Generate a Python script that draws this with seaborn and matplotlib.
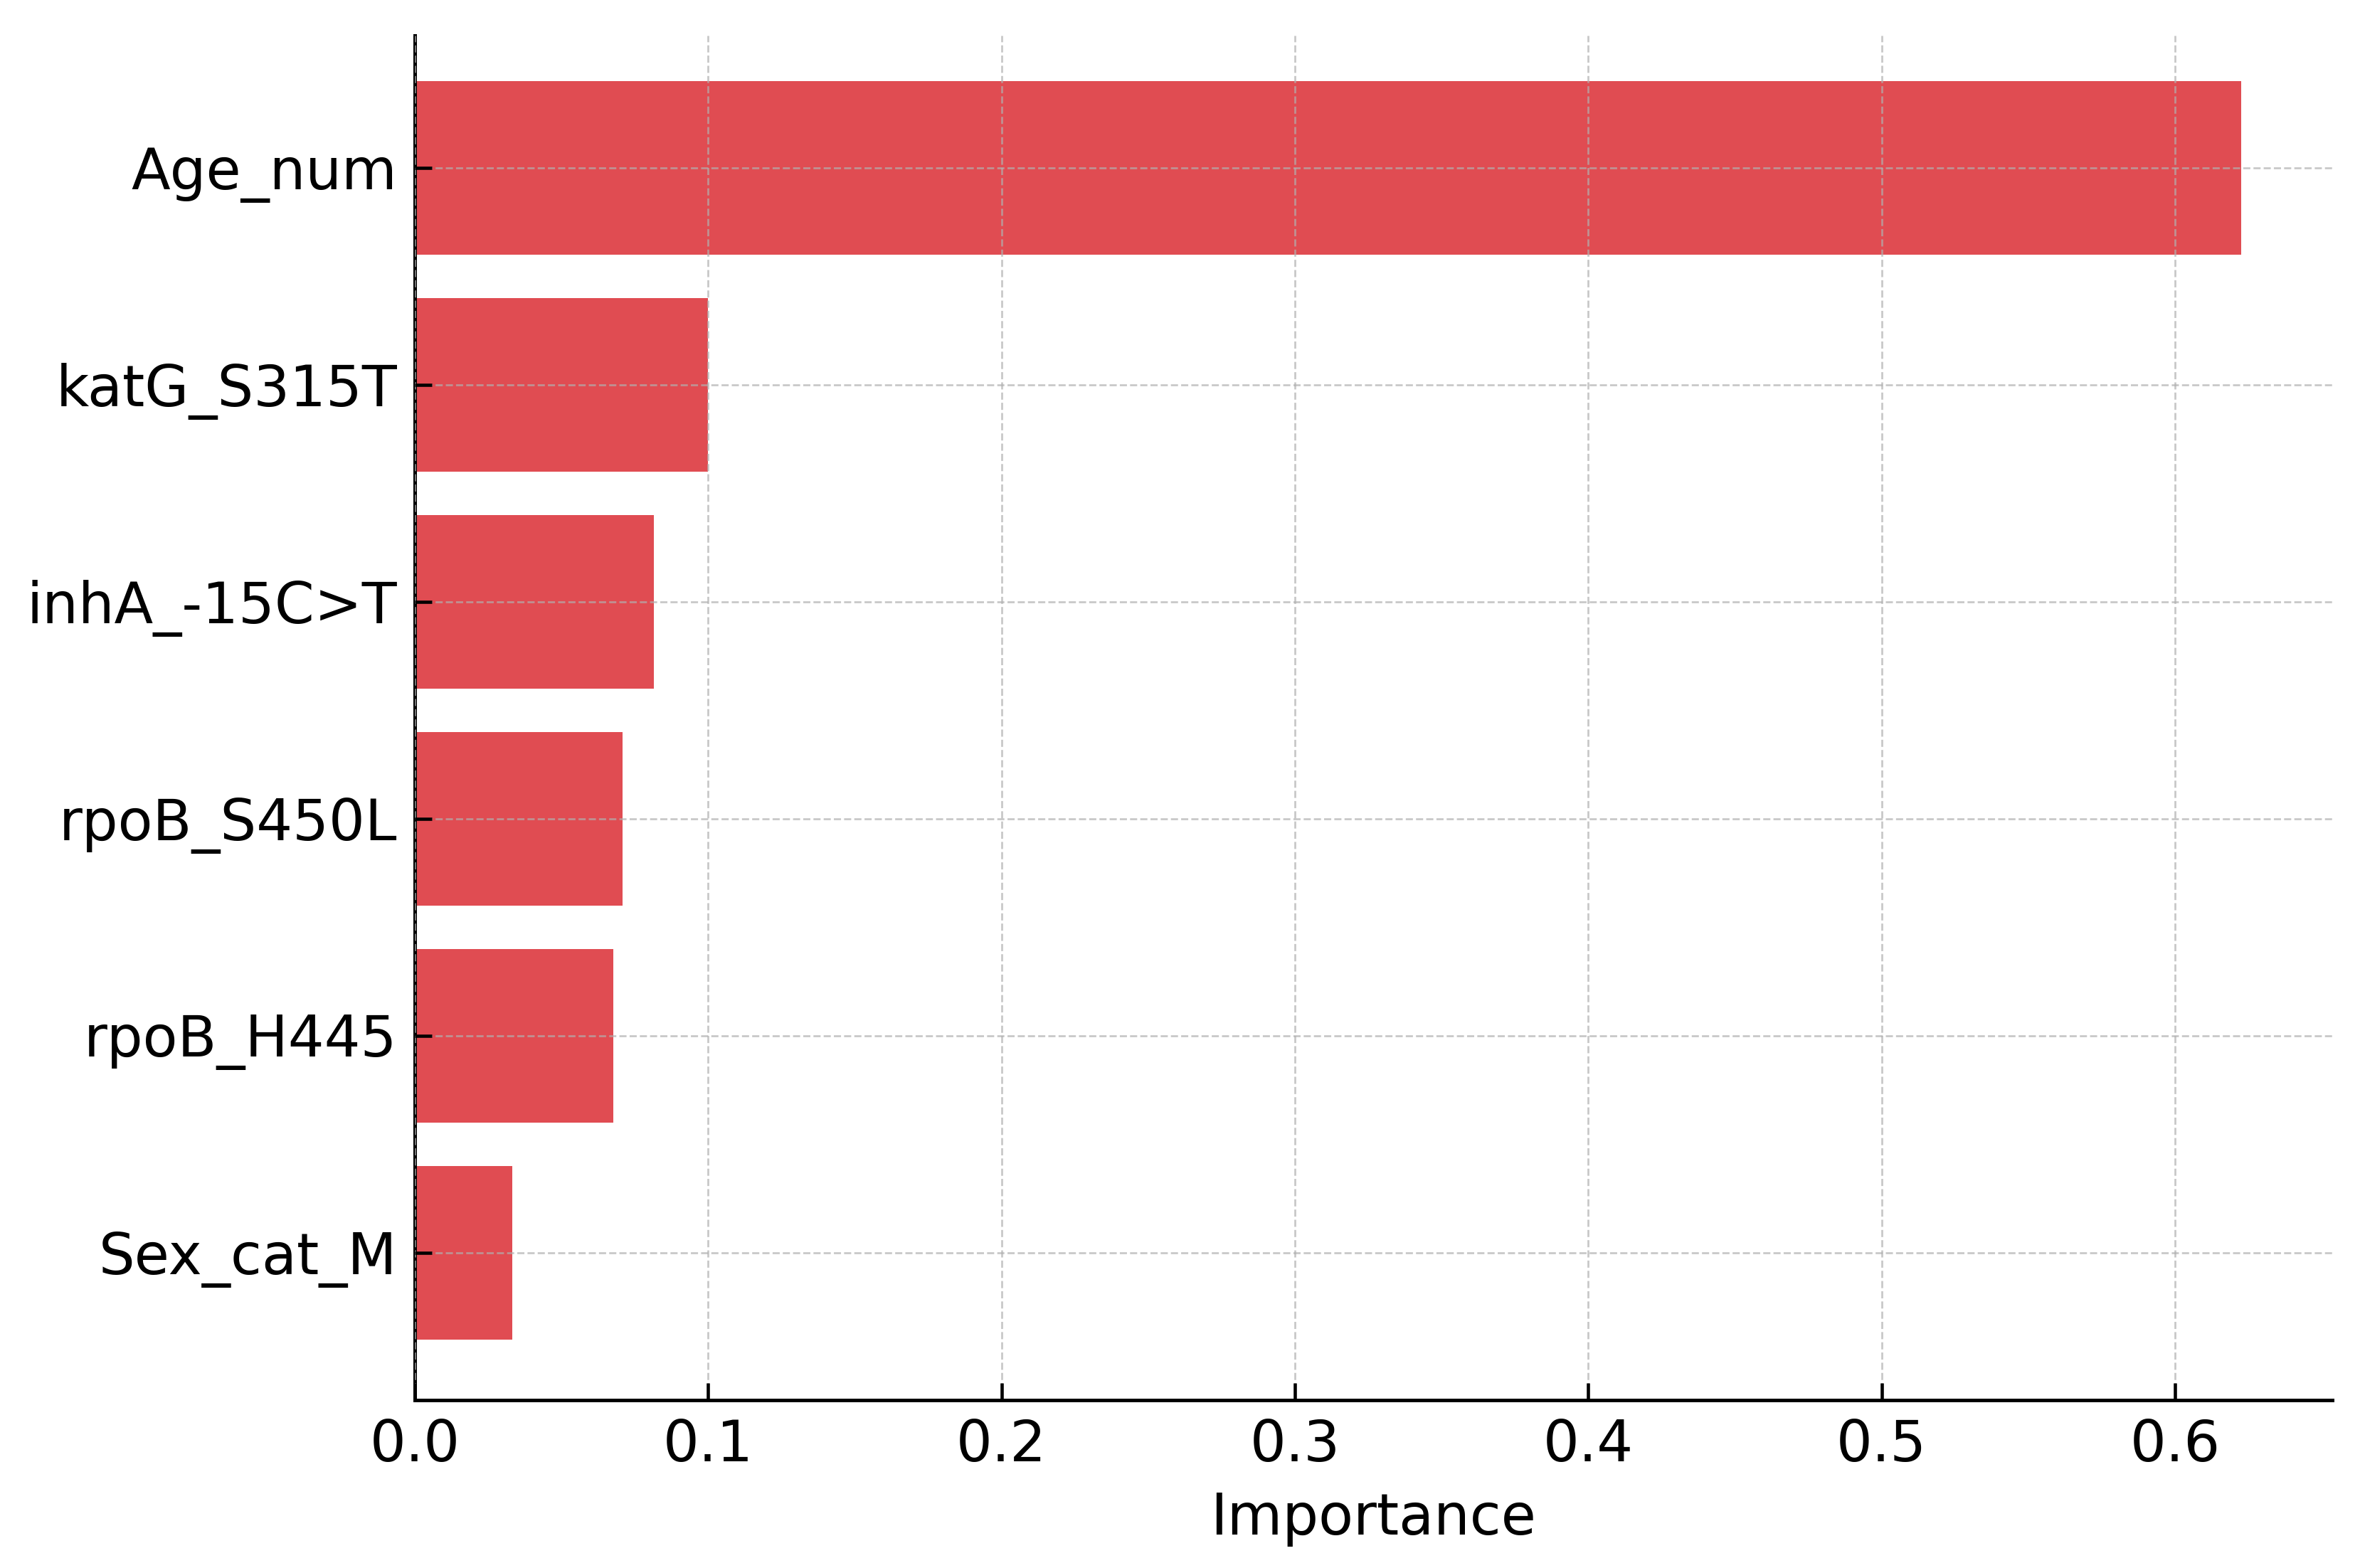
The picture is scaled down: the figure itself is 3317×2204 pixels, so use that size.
import pandas as pd
import matplotlib
matplotlib.use("Agg")
import matplotlib.pyplot as plt
import seaborn as sns

# feature importances
features = ["Age_num", "katG_S315T", "inhA_-15C>T", "rpoB_S450L", "rpoB_H445", "Sex_cat_M"]
importance = [0.6225, 0.0998, 0.0815, 0.0707, 0.0676, 0.0332]
x_ticks = [0.0, 0.1, 0.2, 0.3, 0.4, 0.5, 0.6]

df = pd.DataFrame({"Feature": features, "Importance": importance})

sns.set_style("white")
plt.rcParams["font.family"] = ["DejaVu Sans"]
plt.rcParams["font.size"] = 19.2
plt.rcParams["text.color"] = "black"
plt.rcParams["axes.labelcolor"] = "black"

fig, ax = plt.subplots(figsize=(3317 / 300, 2204 / 300), dpi=300)
fig.subplots_adjust(left=0.1758, right=0.9882, top=0.9773, bottom=0.1071)

sns.barplot(data=df, x="Importance", y="Feature", orient="h", color="#e04c52",
            saturation=1, width=0.8, linewidth=0, ax=ax)

ax.set_xlim(0, 0.6536)
ax.set_ylim(5.68, -0.61)
ax.set_xticks(x_ticks)
ax.set_xticklabels([f"{t:.1f}" for t in x_ticks])
ax.set_xlabel("Importance", fontsize=19.2, color="black", labelpad=6)
ax.set_ylabel("")

# grid drawn over the bars, dashed and light
ax.set_axisbelow(False)
ax.grid(True, linestyle="--", color="#b0b0b0", alpha=0.7, linewidth=0.65)

for side in ["top", "right"]:
    ax.spines[side].set_visible(False)
for side in ["left", "bottom"]:
    ax.spines[side].set_linewidth(1.2)
    ax.spines[side].set_color("black")

ax.tick_params(axis="both", direction="in", length=5.8, width=1.1,
               labelsize=19.2, colors="black", pad=6,
               bottom=True, left=True)

fig.savefig("out.png", dpi=300)
